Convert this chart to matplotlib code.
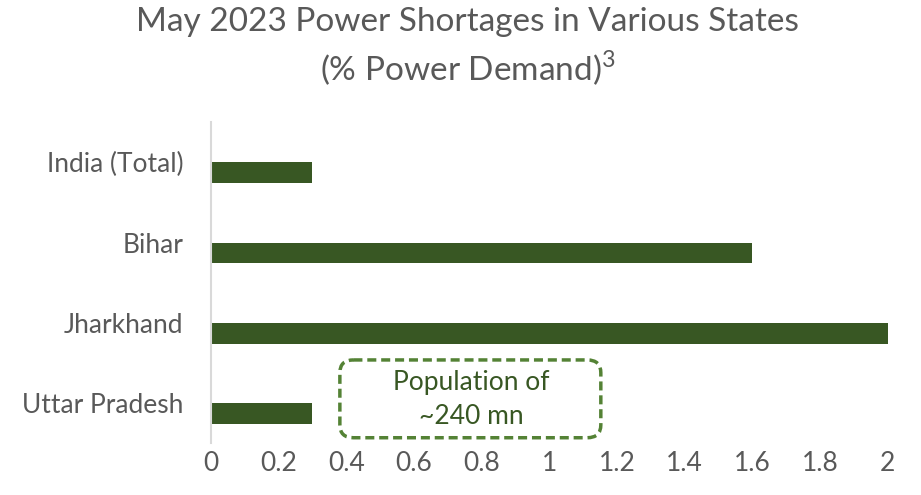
import matplotlib
matplotlib.use("Agg")
import matplotlib.pyplot as plt
from matplotlib.patches import FancyBboxPatch

plt.rcParams['font.family'] = ['Lato', 'DejaVu Sans']
plt.rcParams['mathtext.fontset'] = 'custom'
plt.rcParams['mathtext.rm'] = 'Lato'

# shortage as % of demand, May 2023
states = ["India (Total)", "Bihar", "Jharkhand", "Uttar Pradesh"]
shortage = [0.3, 1.6, 2.0, 0.3]
xticks = [0, 0.2, 0.4, 0.6, 0.8, 1, 1.2, 1.4, 1.6, 1.8, 2]

bar_color = "#385723"
box_color = "#548235"
gray = "#595959"

fig = plt.figure(figsize=(9.21, 4.95), dpi=100)
ax = fig.add_axes([0.229, 0.105, 0.735, 0.648])

pos = list(range(len(states)))
ax.barh(pos, shortage, height=0.26, color=bar_color)
ax.set_ylim(3.37, -0.63)
ax.set_xlim(0, 2)
# category labels sit at the band centre, a little above the bars
ax.set_yticks([p - 0.13 for p in pos])
ax.set_yticklabels(states, fontsize=19, color=gray)
ax.set_xticks(xticks)
ax.set_xticklabels([f"{t:g}" for t in xticks], fontsize=19, color=gray)
ax.tick_params(length=0)
ax.tick_params(axis="x", pad=6)
ax.tick_params(axis="y", pad=20)

for s in ["top", "right", "bottom"]:
    ax.spines[s].set_visible(False)
ax.spines["left"].set_color("#D9D9D9")
ax.spines["left"].set_linewidth(1.5)

# dashed callout next to Uttar Pradesh
box = FancyBboxPatch((0.381, 2.334), 0.771, 0.97,
                     boxstyle="round,pad=0,rounding_size=0.04",
                     fill=False, edgecolor=box_color, linewidth=2.5,
                     linestyle=(0, (2.6, 1.4)), mutation_aspect=4)
ax.add_patch(box)
ax.text(0.768, 2.83, "Population of\n~240 mn", ha="center", va="center",
        fontsize=19, color=bar_color, linespacing=1.45)

fig.text(0.508, 0.955, "May 2023 Power Shortages in Various States",
         ha="center", va="center", fontsize=24, color=gray)
fig.text(0.508, 0.862, r"(% Power Demand)$^{\mathrm{3}}$",
         ha="center", va="center", fontsize=24, color=gray)

fig.savefig("out.png", dpi=100)
